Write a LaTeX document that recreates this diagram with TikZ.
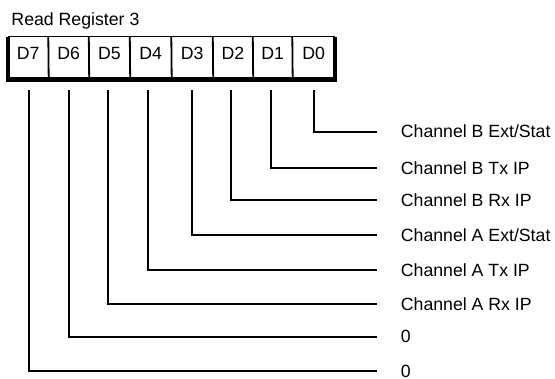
\documentclass[tikz,border=0pt]{standalone}
\usepackage{fontspec}
\setmainfont{Liberation Sans}
\begin{document}
\begin{tikzpicture}[x=1pt,y=-1pt,
  txt/.style={inner sep=0pt,font=\fontsize{17.7}{20}\selectfont},
  cell/.style={inner sep=0pt,minimum height=43pt,font=\fontsize{17.7}{20}\selectfont},
  wire/.style={line width=2.2pt},
  divider/.style={line width=1.8pt},
  frame/.style={line width=4.5pt}]
\useasboundingbox (0,0) rectangle (555,379);
% title
\node[txt,anchor=base west] (title) at (11.3,26) {Read Register 3};
% register cells
\foreach \i/\l/\r/\t in {0/292.5/335/D0,1/253/292.5/D1,2/213/253/D2,3/171.5/213/D3,4/130/171.5/D4,5/89/130/D5,6/48.5/89/D6,7/8/48.5/D7}{
  \node[cell,minimum width={\r-\l}] (d\i) at ({(\l+\r)/2},58) {};
  \node[txt,anchor=base] (t\i) at ({(\l+\r)/2},59.3) {\t};
}
% box
\draw[line width=0.8pt] (d7.north west) -- (d0.north east);
\foreach \a/\b in {6/7,5/6,4/5,3/4,2/3,1/2,0/1}{
  \draw[divider] (d\a.north west) -- (d\b.south east);
}
\draw[frame] ([yshift=-0.4pt]d7.north west) |- (d0.south east) -- ([yshift=-0.4pt]d0.north east);
% starts of wires
\coordinate (s0) at (314,90);
\coordinate (s1) at (271,90);
\coordinate (s2) at (231,90);
\coordinate (s3) at (192,90);
\coordinate (s4) at (148,90);
\coordinate (s5) at (108,90);
\coordinate (s6) at (69,90);
\coordinate (s7) at (29,90);
% ends of wires and labels
\foreach \i/\y/\lab in {0/131.7/{Channel B Ext/Stat},1/168.3/{Channel B Tx IP},2/200.3/{Channel B Rx IP},3/235.3/{Channel A Ext/Stat},4/270/{Channel A Tx IP},5/304.3/{Channel A Rx IP},6/336.7/{0},7/371.3/{0}}{
  \coordinate (e\i) at (376.7,\y);
  \node[txt,anchor=base west] (l\i) at (400.7,\y+6.3) {\lab};
  \draw[wire] (s\i) |- (e\i);
}
\end{tikzpicture}
\end{document}
